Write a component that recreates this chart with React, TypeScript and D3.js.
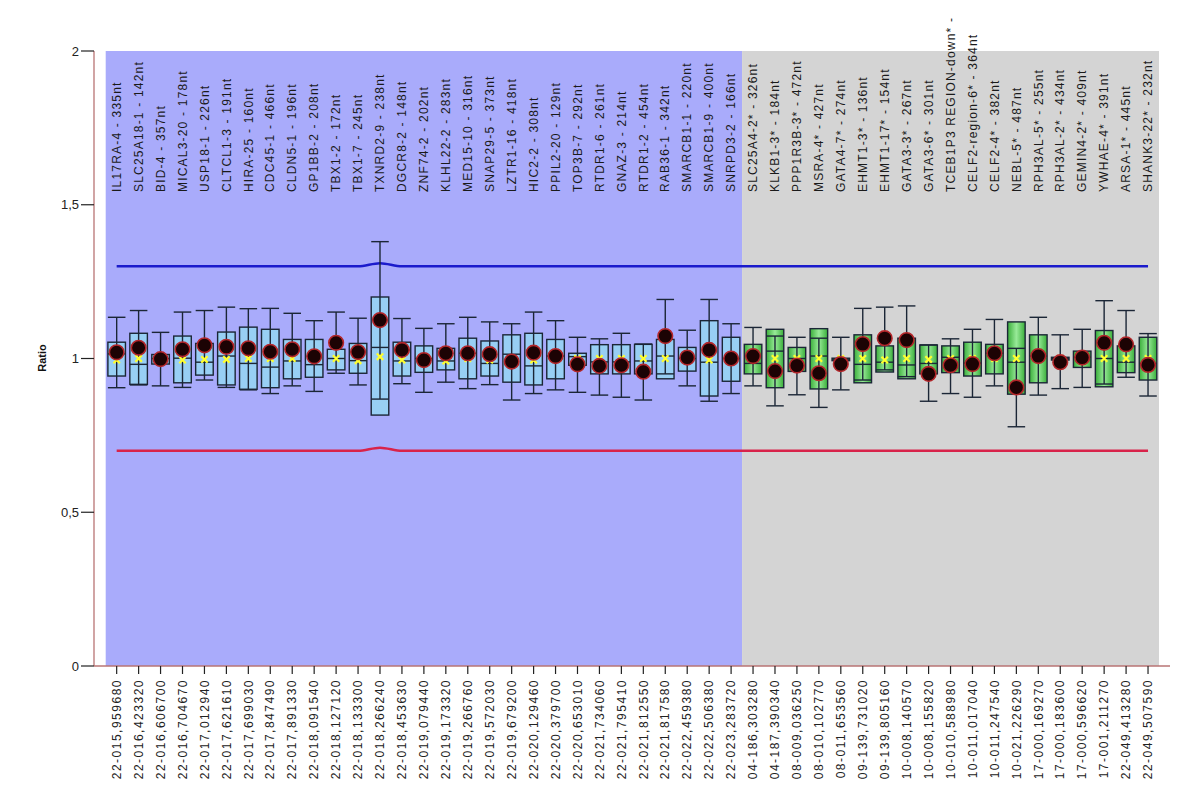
import * as d3 from 'd3';

// probe names (top labels) and genomic positions (bottom labels)
const probes = [
  'IL17RA-4 - 335nt', 'SLC25A18-1 - 142nt', 'BID-4 - 357nt', 'MICAL3-20 - 178nt', 'USP18-1 - 226nt',
  'CLTCL1-3 - 191nt', 'HIRA-25 - 160nt', 'CDC45-1 - 466nt', 'CLDN5-1 - 196nt', 'GP1BB-2 - 208nt',
  'TBX1-2 - 172nt', 'TBX1-7 - 245nt', 'TXNRD2-9 - 238nt', 'DGCR8-2 - 148nt', 'ZNF74-2 - 202nt',
  'KLHL22-2 - 283nt', 'MED15-10 - 316nt', 'SNAP29-5 - 373nt', 'LZTR1-16 - 418nt', 'HIC2-2 - 308nt',
  'PPIL2-20 - 129nt', 'TOP3B-7 - 292nt', 'RTDR1-6 - 261nt', 'GNAZ-3 - 214nt', 'RTDR1-2 - 454nt',
  'RAB36-1 - 342nt', 'SMARCB1-1 - 220nt', 'SMARCB1-9 - 400nt', 'SNRPD3-2 - 166nt',
  'SLC25A4-2* - 326nt', 'KLKB1-3* - 184nt', 'PPP1R3B-3* - 472nt', 'MSRA-4* - 427nt', 'GATA4-7* - 274nt',
  'EHMT1-3* - 136nt', 'EHMT1-17* - 154nt', 'GATA3-3* - 267nt', 'GATA3-6* - 301nt',
  'TCEB1P3 REGION-down* -', 'CELF2-region-6* - 364nt', 'CELF2-4* - 382nt', 'NEBL-5* - 487nt',
  'RPH3AL-5* - 255nt', 'RPH3AL-2* - 434nt', 'GEMIN4-2* - 409nt', 'YWHAE-4* - 391nt', 'ARSA-1* - 445nt',
  'SHANK3-22* - 232nt',
];

const positions = [
  '22-015,959680', '22-016,423320', '22-016,606700', '22-016,704670', '22-017,012940',
  '22-017,621610', '22-017,699030', '22-017,847490', '22-017,891330', '22-018,091540',
  '22-018,127120', '22-018,133300', '22-018,266240', '22-018,453630', '22-019,079440',
  '22-019,173320', '22-019,266760', '22-019,572030', '22-019,679200', '22-020,129460',
  '22-020,379700', '22-020,653010', '22-021,734060', '22-021,795410', '22-021,812550',
  '22-021,817580', '22-022,459380', '22-022,506380', '22-023,283720',
  '04-186,303280', '04-187,390340', '08-009,036250', '08-010,102770', '08-011,653560',
  '09-139,731020', '09-139,805160', '10-008,140570', '10-008,155820', '10-010,588980',
  '10-011,017040', '10-011,247540', '10-021,226290', '17-000,169270', '17-000,183600',
  '17-000,596620', '17-001,211270', '22-049,413280', '22-049,507590',
];

// first 29 probes are reference probes, the rest are target probes
const nReference = 29;

const whiskerLow = [
  0.905, 0.914, 0.911, 0.906, 0.930, 0.906, 0.898, 0.886, 0.911, 0.893,
  0.952, 0.914, 0.868, 0.918, 0.890, 0.923, 0.902, 0.915, 0.865, 0.886,
  0.898, 0.890, 0.881, 0.874, 0.865, 0.950, 0.911, 0.861, 0.886,
  0.911, 0.846, 0.882, 0.841, 0.898, 0.930, 0.963, 0.941, 0.861, 0.886,
  0.874, 0.911, 0.778, 0.881, 0.902, 0.906, 0.917, 0.939, 0.878,
];
const q1 = [
  0.943, 0.916, 0.982, 0.921, 0.946, 0.914, 0.900, 0.905, 0.934, 0.939,
  0.963, 0.952, 0.816, 0.943, 0.955, 0.963, 0.934, 0.943, 0.923, 0.914,
  0.934, 0.978, 0.950, 0.950, 0.950, 0.934, 0.959, 0.878, 0.926,
  0.950, 0.905, 0.958, 0.901, 0.993, 0.921, 0.956, 0.934, 0.950, 0.954,
  0.943, 0.950, 0.884, 0.921, 0.995, 0.971, 0.908, 0.954, 0.930,
];
const median = [
  1.015, 0.981, 1.000, 1.001, 0.988, 1.008, 0.984, 0.972, 0.992, 0.980,
  1.000, 0.993, 1.036, 0.992, 1.000, 0.992, 1.017, 0.984, 1.014, 0.976,
  1.008, 1.006, 0.989, 0.989, 0.992, 1.008, 1.000, 0.988, 1.000,
  0.984, 1.024, 1.000, 1.008, 0.998, 0.981, 0.988, 0.979, 0.984, 1.004,
  0.985, 1.017, 0.988, 1.008, 1.000, 1.004, 1.000, 0.988, 0.984,
];
const q3 = [
  1.053, 1.082, 1.013, 1.073, 1.049, 1.086, 1.102, 1.095, 1.062, 1.062,
  1.030, 1.049, 1.200, 1.053, 1.041, 1.033, 1.066, 1.057, 1.077, 1.082,
  1.062, 1.017, 1.045, 1.045, 1.046, 1.062, 1.036, 1.123, 1.069,
  1.046, 1.095, 1.036, 1.097, 1.001, 1.077, 1.041, 1.066, 1.044, 1.041,
  1.053, 1.046, 1.119, 1.077, 1.004, 1.024, 1.091, 1.041, 1.069,
];
const whiskerHigh = [
  1.134, 1.156, 1.085, 1.151, 1.156, 1.167, 1.162, 1.163, 1.147, 1.123,
  1.151, 1.131, 1.380, 1.130, 1.098, 1.113, 1.134, 1.119, 1.113, 1.151,
  1.123, 1.069, 1.064, 1.082, 1.047, 1.192, 1.092, 1.192, 1.113,
  1.101, 1.073, 1.069, 1.066, 1.069, 1.163, 1.167, 1.171, 1.044, 1.064,
  1.095, 1.127, 1.033, 1.134, 1.077, 1.095, 1.188, 1.156, 1.081,
];
const mean = [
  0.995, 1.000, 1.000, 0.995, 0.997, 0.997, 1.000, 1.000, 1.000, 1.000,
  1.000, 0.993, 1.006, 0.995, 1.000, 0.992, 1.000, 0.995, 1.000, 0.995,
  1.000, 1.000, 1.000, 1.000, 1.000, 1.000, 1.000, 0.995, 1.000,
  1.000, 1.000, 1.000, 1.000, 1.000, 1.000, 0.995, 1.000, 0.997, 1.000,
  1.000, 1.000, 1.000, 1.000, 1.000, 1.000, 1.000, 1.000, 1.000,
];
const sampleRatio = [
  1.020, 1.035, 0.998, 1.030, 1.043, 1.038, 1.033, 1.022, 1.030, 1.007,
  1.051, 1.021, 1.125, 1.028, 0.995, 1.017, 1.017, 1.014, 0.990, 1.019,
  1.008, 0.981, 0.976, 0.978, 0.957, 1.073, 1.003, 1.028, 1.000,
  1.008, 0.959, 0.977, 0.952, 0.982, 1.047, 1.066, 1.060, 0.950, 0.978,
  0.982, 1.017, 0.906, 1.008, 0.988, 1.003, 1.051, 1.046, 0.979,
];
const upperLimit = [
  1.3, 1.3, 1.3, 1.3, 1.3, 1.3, 1.3, 1.3, 1.3, 1.3,
  1.3, 1.3, 1.31, 1.3, 1.3, 1.3, 1.3, 1.3, 1.3, 1.3,
  1.3, 1.3, 1.3, 1.3, 1.3, 1.3, 1.3, 1.3, 1.3,
  1.3, 1.3, 1.3, 1.3, 1.3, 1.3, 1.3, 1.3, 1.3, 1.3,
  1.3, 1.3, 1.3, 1.3, 1.3, 1.3, 1.3, 1.3, 1.3,
];
const lowerLimit = [
  0.7, 0.7, 0.7, 0.7, 0.7, 0.7, 0.7, 0.7, 0.7, 0.7,
  0.7, 0.7, 0.71, 0.7, 0.7, 0.7, 0.7, 0.7, 0.7, 0.7,
  0.7, 0.7, 0.7, 0.7, 0.7, 0.7, 0.7, 0.7, 0.7,
  0.7, 0.7, 0.7, 0.7, 0.7, 0.7, 0.7, 0.7, 0.7, 0.7,
  0.7, 0.7, 0.7, 0.7, 0.7, 0.7, 0.7, 0.7, 0.7,
];
const yTicks = [0, 0.5, 1, 1.5, 2];

const W = 1194;
const H = 787;
const axisX = 94;
const plotLeft = 105.7;
const plotRight = 1159;
const plotTop = 51;
const plotBottom = 666;

const fmt = (v: number) => String(v).replace('.', ',');

export default function App() {
  const x = d3.scaleBand().domain(probes).range([plotLeft, plotRight]).padding(0);
  const y = d3.scaleLinear().domain([0, 2]).range([plotBottom, plotTop]);
  const bw = x.bandwidth();
  const boxW = bw * 0.8;
  const cx = (i: number) => (x(probes[i]) as number) + bw / 2;
  const splitX = x(probes[nReference]) as number;

  const limitLine = d3
    .line<number>()
    .x((_, i) => cx(i))
    .y((d) => y(d))
    .curve(d3.curveMonotoneX);

  const boxStroke = '#1b2636';

  return (
    <svg
      width={W}
      height={H}
      style={{ position: 'absolute', left: 0, top: 0, background: '#fff' }}
      fontFamily="Arial, 'Liberation Sans', sans-serif"
    >
      <defs>
        <linearGradient id="greenBox" x1="0" x2="1" y1="0" y2="0">
          <stop offset="0%" stopColor="#3aae3a" />
          <stop offset="50%" stopColor="#98ea98" />
          <stop offset="100%" stopColor="#3aae3a" />
        </linearGradient>
      </defs>

      {/* group backgrounds */}
      <rect x={plotLeft} y={plotTop} width={splitX - plotLeft} height={plotBottom - plotTop} fill="#a9abfb" />
      <rect x={splitX} y={plotTop} width={plotRight - splitX} height={plotBottom - plotTop} fill="#d4d4d4" />

      {/* probe labels */}
      {probes.map((p, i) => (
        <text
          key={p}
          transform={`translate(${cx(i)},192) rotate(-90)`}
          dy="0.35em"
          fontSize={12}
          letterSpacing={1.2}
          fill="#1a1a1a"
        >
          {p}
        </text>
      ))}

      {/* limit lines */}
      <path d={limitLine(upperLimit) as string} fill="none" stroke="#1b1bcc" strokeWidth={2.6} />
      <path d={limitLine(lowerLimit) as string} fill="none" stroke="#d8234a" strokeWidth={2.6} />

      {/* boxes */}
      {probes.map((p, i) => {
        const c = cx(i);
        const fill = i < nReference ? '#98cff4' : 'url(#greenBox)';
        const top = Math.max(q1[i], q3[i]);
        const bot = Math.min(q1[i], q3[i]);
        const m = mean[i];
        const s = 3.2;
        return (
          <g key={p}>
            <rect
              x={c - boxW / 2}
              y={y(top)}
              width={boxW}
              height={Math.max(y(bot) - y(top), 1)}
              fill={fill}
              stroke={boxStroke}
              strokeWidth={1.4}
            />
            <line x1={c} x2={c} y1={y(whiskerLow[i])} y2={y(whiskerHigh[i])} stroke={boxStroke} strokeWidth={1.4} />
            <line x1={c - boxW / 2} x2={c + boxW / 2} y1={y(whiskerHigh[i])} y2={y(whiskerHigh[i])} stroke={boxStroke} strokeWidth={1.4} />
            <line x1={c - boxW / 2} x2={c + boxW / 2} y1={y(whiskerLow[i])} y2={y(whiskerLow[i])} stroke={boxStroke} strokeWidth={1.4} />
            <line x1={c - boxW / 2} x2={c + boxW / 2} y1={y(median[i])} y2={y(median[i])} stroke={boxStroke} strokeWidth={1.4} />
            <path
              d={`M${c - s},${y(m) - s}L${c + s},${y(m) + s}M${c - s},${y(m) + s}L${c + s},${y(m) - s}`}
              stroke="#ffff2e"
              strokeWidth={2.2}
            />
            <circle cx={c} cy={y(sampleRatio[i])} r={7.3} fill="#1c0304" stroke="#b3262a" strokeWidth={1.6} />
          </g>
        );
      })}

      {/* y axis */}
      <line x1={axisX} x2={axisX} y1={plotTop} y2={plotBottom} stroke="#b87474" strokeWidth={1.3} />
      {yTicks.map((t) => (
        <g key={t} transform={`translate(0,${y(t)})`}>
          <line x1={axisX - 13} x2={axisX} stroke="#222" strokeWidth={1.2} />
          <text x={axisX - 15} dy="0.35em" textAnchor="end" fontSize={13} fill="#222">
            {fmt(t)}
          </text>
        </g>
      ))}
      <text transform="translate(42,358) rotate(-90)" textAnchor="middle" dy="0.35em" fontSize={11} fontWeight="bold" fill="#111">
        Ratio
      </text>

      {/* x axis */}
      <line x1={axisX} x2={1170} y1={plotBottom} y2={plotBottom} stroke="#b87474" strokeWidth={1.3} />
      {positions.map((p, i) => (
        <g key={p} transform={`translate(${cx(i)},${plotBottom})`}>
          <line y1={0} y2={8} stroke="#222" strokeWidth={1.2} />
          <text transform="translate(0,13) rotate(-90)" textAnchor="end" dy="0.35em" fontSize={12} letterSpacing={1.5} fill="#222">
            {p}
          </text>
        </g>
      ))}
    </svg>
  );
}
